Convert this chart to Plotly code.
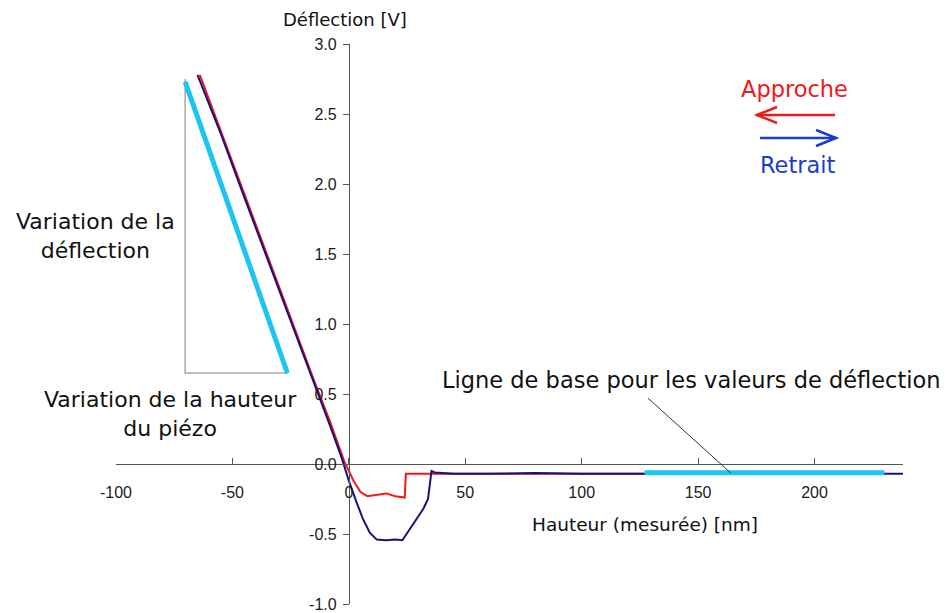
import plotly.graph_objects as go

# Courbe d'approche (rouge) : hauteur [nm], deflection [V]
approche_x = [-64, -55, -45, -35, -25, -15, -8, -2, 2, 5, 8, 12, 16, 20, 23, 24,
              24.5, 30, 40, 60, 80, 100, 120, 127]
approche_y = [2.78, 2.38, 1.93, 1.49, 1.04, 0.60, 0.30, 0.02, -0.12, -0.20, -0.23, -0.22,
              -0.21, -0.23, -0.24, -0.24, -0.07, -0.07, -0.065, -0.07, -0.065, -0.07, -0.065, -0.07]

# Courbe de retrait (bleu)
retrait_x = [-65, -55, -45, -35, -25, -15, -8, -3, 0, 3, 6, 9, 12, 16, 20, 23, 26, 29,
             32, 34, 35.5, 37, 45, 60, 80, 100, 120, 140, 160, 180, 200, 220, 238]
retrait_y = [2.78, 2.36, 1.91, 1.47, 1.02, 0.58, 0.27, 0.04, -0.12, -0.26, -0.39, -0.49,
             -0.54, -0.545, -0.54, -0.545, -0.47, -0.39, -0.32, -0.25, -0.05, -0.06, -0.07,
             -0.07, -0.065, -0.07, -0.07, -0.065, -0.07, -0.07, -0.065, -0.07, -0.07]

x_ticks = [-100, -50, 0, 50, 100, 150, 200]
x_labels = ["-100", "-50", "0", "50", "100", "150", "200"]
y_ticks = [-1.0, -0.5, 0.0, 0.5, 1.0, 1.5, 2.0, 2.5, 3.0]
y_labels = ["-1.0", "-0.5", "0.0", "0.5", "1.0", "1.5", "2.0", "2.5", "3.0"]

X_RANGE = [-100, 238]
Y_RANGE = [-1, 3]

# plot area in page pixels (the page body adds an 8px offset)
OFF = 8
L, R, T, B = 116, 903, 44, 604
FIG_W, FIG_H = 951 - OFF, 613 - OFF


def paper(px, py):
    return (px - L) / (R - L), (B - py) / (B - T)


RED = "#f01818"
NAVY = "#16127a"
BLUE = "#1a3ccc"
CYAN = "#1cc4f0"
TXT = "DejaVu Sans"

fig = go.Figure()
fig.add_trace(go.Scatter(x=approche_x, y=approche_y, mode="lines",
                         line=dict(color=RED, width=2)))
fig.add_trace(go.Scatter(x=retrait_x, y=retrait_y, mode="lines",
                         line=dict(color=NAVY, width=2)))

shapes = []
# triangle gris (pente)
shapes.append(dict(type="path", xref="x", yref="y",
                   path="M -70.3,2.75 L -70.3,0.65 L -26.2,0.65",
                   line=dict(color="#a8a8a8", width=1.5)))
# pente cyan
shapes.append(dict(type="line", xref="x", yref="y", x0=-70.3, y0=2.73, x1=-26.4, y1=0.65,
                   line=dict(color=CYAN, width=5)))
# ligne de base cyan
shapes.append(dict(type="line", xref="x", yref="y", x0=127, y0=-0.062, x1=230, y1=-0.062,
                   line=dict(color=CYAN, width=5)))
# trait vers la ligne de base
shapes.append(dict(type="line", xref="x", yref="y", x0=128.5, y0=0.47, x1=164, y1=-0.064,
                   line=dict(color="#333333", width=1)))


def arrow(points, color):
    p = " L ".join("%.4f,%.4f" % paper(*pt) for pt in points)
    return dict(type="path", xref="paper", yref="paper", path="M " + p,
                line=dict(color=color, width=2.5))


shapes.append(arrow([(835, 115), (757, 115)], RED))
shapes.append(arrow([(777, 107), (757, 115), (777, 123)], RED))
shapes.append(arrow([(760, 138), (836, 138)], BLUE))
shapes.append(arrow([(816, 130), (836, 138), (816, 146)], BLUE))

annotations = []


def label(text, px, py, size, color="#111111", xanchor="center", align="center"):
    xp, yp = paper(px, py)
    annotations.append(dict(text=text, x=xp, y=yp, xref="paper", yref="paper",
                            xanchor=xanchor, yanchor="middle", showarrow=False, align=align,
                            font=dict(family=TXT, size=size, color=color)))


label("Déflection [V]", 345, 20, 18)
label("Hauteur (mesurée) [nm]", 530, 524, 18.5, xanchor="left")
label("Variation de la<br>déflection", 95, 236, 22)
label("Variation de la hauteur<br>du piézo", 170, 414, 22)
label("Ligne de base pour les valeurs de déflection", 440, 380, 22.5, xanchor="left")
label("Approche", 794, 89, 22.5, color=RED)
label("Retrait", 798, 165, 22.5, color=BLUE)

tick_font = dict(family="Liberation Sans, Arial", size=16, color="#1a1a1a")

fig.update_layout(
    width=FIG_W, height=FIG_H,
    margin=dict(l=L - OFF, r=951 - R, t=T - OFF, b=613 - B),
    paper_bgcolor="white", plot_bgcolor="white",
    showlegend=False,
    shapes=shapes, annotations=annotations,
    xaxis=dict(range=X_RANGE, tickvals=x_ticks, ticktext=x_labels, automargin=False,
               anchor="free", position=(0 - Y_RANGE[0]) / (Y_RANGE[1] - Y_RANGE[0]),
               showgrid=False, zeroline=False, showline=True, linecolor="#555555",
               linewidth=1, ticks="inside", ticklen=6, tickcolor="#555555",
               tickfont=tick_font, ticklabelstandoff=14),
    yaxis=dict(range=Y_RANGE, tickvals=y_ticks, ticktext=y_labels, automargin=False,
               anchor="free", position=(0 - X_RANGE[0]) / (X_RANGE[1] - X_RANGE[0]),
               showgrid=False, zeroline=False, showline=True, linecolor="#555555",
               linewidth=1, ticks="outside", ticklen=6, tickcolor="#555555",
               tickfont=tick_font, ticklabelstandoff=3),
)

fig.write_html("out.html")
